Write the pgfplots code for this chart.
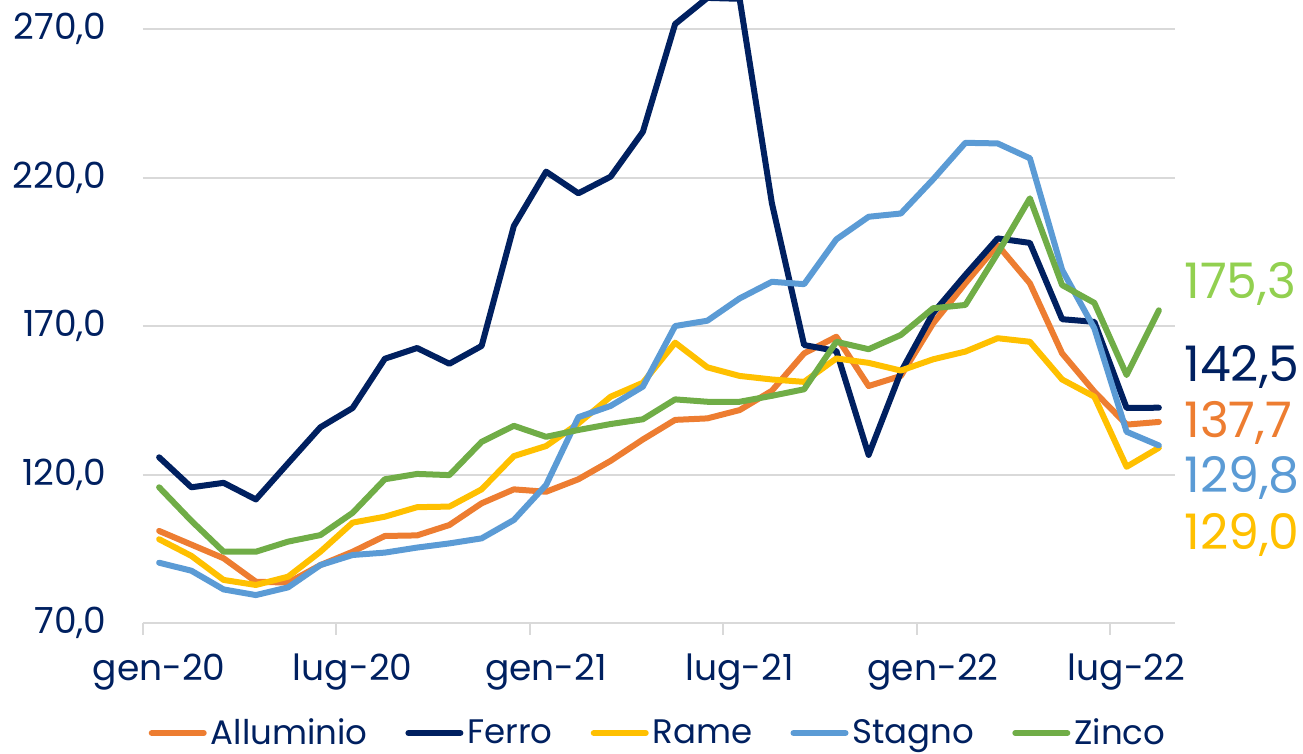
\documentclass[border=0pt]{standalone}
\usepackage{fontspec}
\setmainfont{Poppins}
\usepackage{pgfplots}
\pgfplotsset{compat=1.18}
\definecolor{alluminio}{HTML}{ED7D31}
\definecolor{ferro}{HTML}{002060}
\definecolor{rame}{HTML}{FFC000}
\definecolor{stagno}{HTML}{5B9BD5}
\definecolor{zinco}{HTML}{70AD47}
\definecolor{zincolab}{HTML}{92D050}
\definecolor{gridgray}{HTML}{D9D9D9}

\begin{document}
\begin{tikzpicture}
\begin{axis}[
    at={(0,0)}, anchor=south west,
    scale only axis, width=516pt, height=311.5pt,
    xmin=-0.5, xmax=31.5,
    ymin=70, ymax=279.8,
    clip mode=individual,
    axis x line*=bottom, axis y line*=left,
    x axis line style={draw=gridgray, line width=1pt},
    y axis line style={draw=none},
    ytick={70,120,...,270},
    ytick style={draw=none},
    ymajorgrids=true,
    grid style={gridgray, line width=1pt},
    xtick={0,6,12,18,24,30},
    xticklabels={gen-20,lug-20,gen-21,lug-21,gen-22,lug-22},
    major tick length=0pt,
    extra x ticks={-0.5,5.5,11.5,17.5,23.5,29.5},
    extra x tick labels={},
    extra x tick style={major tick length=6pt, tick align=outside,
        tick style={draw=gridgray, line width=1pt}},
    tick label style={font=\fontsize{18}{21}\selectfont, text=ferro},
    yticklabel style={anchor=east, inner sep=0pt, xshift=-18pt,
        /pgf/number format/.cd, fixed, fixed zerofill, precision=1,
        use comma, assume math mode=true},
    xticklabel style={anchor=base, inner sep=0pt, yshift=-29pt},
    legend columns=5,
    legend style={at={(0.5,0)}, anchor=center, yshift=-55pt, draw=none,
        fill=none, font=\fontsize{17}{20}\selectfont, text=ferro,
        /tikz/every even column/.append style={column sep=17pt}},
    legend image code/.code={\draw[#1, line width=3pt, line cap=round]
        (0pt,0pt) -- (26pt,0pt);},
    every axis plot/.append style={line width=3pt, line join=round, line cap=round},
]
% Alluminio
\addplot[alluminio] coordinates {
(0,101.0)(1,96.4)(2,91.8)(3,83.9)(4,83.6)(5,89.5)(6,94.0)(7,99.3)
(8,99.5)(9,103.0)(10,110.3)(11,115.0)(12,114.2)(13,118.4)(14,124.6)(15,131.8)
(16,138.4)(17,138.9)(18,141.7)(19,148.2)(20,160.8)(21,166.4)(22,149.8)(23,153.2)
(24,170.9)(25,184.4)(26,197.3)(27,184.4)(28,160.8)(29,147.9)(30,136.8)(31,137.7)};
\addlegendentry{Alluminio}
% Ferro
\addplot[ferro] coordinates {
(0,125.8)(1,115.7)(2,117.2)(3,111.6)(4,123.8)(5,135.9)(6,142.4)(7,159.0)
(8,162.6)(9,157.3)(10,163.3)(11,203.7)(12,222.0)(13,214.7)(14,220.3)(15,235.4)
(16,271.7)(17,280.5)(18,280.2)(19,211.4)(20,163.6)(21,161.6)(22,126.6)(23,154.5)
(24,174.4)(25,187.2)(26,199.5)(27,198.0)(28,172.3)(29,171.4)(30,142.4)(31,142.5)};
\addlegendentry{Ferro}
% Rame
\addplot[rame] coordinates {
(0,98.2)(1,92.6)(2,84.5)(3,82.8)(4,85.6)(5,94.0)(6,103.8)(7,105.8)
(8,109.0)(9,109.2)(10,115.0)(11,126.2)(12,129.6)(13,137.2)(14,146.2)(15,150.9)
(16,164.4)(17,156.1)(18,153.2)(19,152.0)(20,151.2)(21,159.1)(22,157.6)(23,155.0)
(24,158.8)(25,161.4)(26,165.9)(27,164.7)(28,152.0)(29,146.2)(30,122.6)(31,129.0)};
\addlegendentry{Rame}
% Stagno
\addplot[stagno] coordinates {
(0,90.3)(1,87.6)(2,81.3)(3,79.4)(4,82.0)(5,89.5)(6,92.9)(7,93.7)
(8,95.4)(9,96.8)(10,98.5)(11,104.7)(12,116.5)(13,139.3)(14,143.1)(15,149.6)
(16,170.0)(17,171.8)(18,179.3)(19,184.9)(20,184.1)(21,199.2)(22,206.8)(23,207.9)
(24,219.4)(25,231.7)(26,231.5)(27,226.5)(28,188.9)(29,169.2)(30,134.4)(31,129.8)};
\addlegendentry{Stagno}
% Zinco
\addplot[zinco] coordinates {
(0,115.7)(1,104.4)(2,94.0)(3,94.0)(4,97.4)(5,99.6)(6,107.1)(7,118.4)
(8,120.2)(9,119.8)(10,131.0)(11,136.4)(12,132.7)(13,135.0)(14,137.0)(15,138.6)
(16,145.3)(17,144.5)(18,144.5)(19,146.5)(20,148.7)(21,164.7)(22,162.2)(23,167.0)
(24,176.0)(25,177.1)(26,194.5)(27,213.0)(28,183.8)(29,177.8)(30,153.5)(31,175.3)};
\addlegendentry{Zinco}

\begin{scope}[every node/.style={anchor=west, inner sep=0pt,
    font=\fontsize{24.5}{27}\selectfont}]
\node[text=zincolab] at (axis cs:31.5,184.2) {\hspace{4.5pt}175,3};
\node[text=ferro]    at (axis cs:31.5,156.3) {\hspace{4.5pt}142,5};
\node[text=alluminio] at (axis cs:31.5,137.3) {\hspace{4.5pt}137,7};
\node[text=stagno]   at (axis cs:31.5,118.8) {\hspace{4.5pt}129,8};
\node[text=rame]     at (axis cs:31.5,99.6) {\hspace{4.5pt}129,0};
\end{scope}
\end{axis}
\pgfresetboundingbox
\path (-71.5pt,-65.5pt) rectangle (580pt,311.5pt);
\end{tikzpicture}
\end{document}
